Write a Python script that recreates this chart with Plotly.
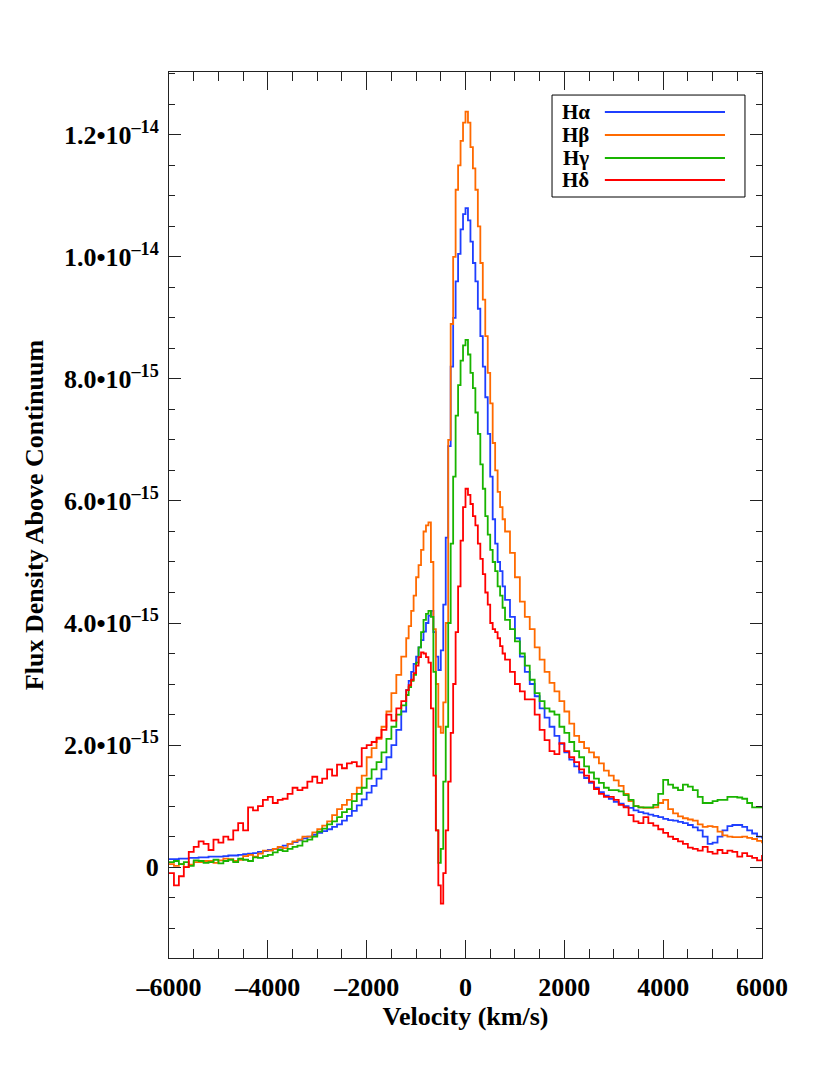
import plotly.graph_objects as go

# velocity bins in km/s (shared by all four lines)
velocity = [
    -6000, -5900, -5800, -5700, -5600, -5500, -5400, -5300, -5200, -5100,
    -5000, -4900, -4800, -4700, -4600, -4500, -4400, -4300, -4200, -4100,
    -4000, -3900, -3800, -3700, -3600, -3500, -3400, -3300, -3200, -3100,
    -3000, -2900, -2800, -2700, -2600, -2500, -2400, -2300, -2200, -2100,
    -2000, -1900, -1800, -1700, -1600, -1500, -1400, -1300,
    -1200, -1150, -1100, -1050, -1000, -950, -900, -850, -800, -750,
    -700, -650, -600, -550, -500, -450, -400, -350, -300, -250,
    -200, -150, -100, -50, 0, 50, 100, 150, 200, 250,
    300, 350, 400, 450, 500, 550, 600, 650, 700, 750, 800,
    900, 1000, 1100, 1200, 1300, 1400, 1500, 1600, 1700, 1800,
    1900, 2000, 2100, 2200, 2300, 2400, 2500, 2600, 2700, 2800,
    2900, 3000, 3100, 3200, 3300, 3400, 3500, 3600, 3700, 3800,
    3900, 4000, 4100, 4200, 4300, 4400, 4500, 4600, 4700, 4800,
    4900, 5000, 5100, 5200, 5300, 5400, 5500, 5600, 5700, 5800,
    5900, 6000,
]

# flux density above continuum, in units of 1e-15
h_alpha = [
    0.13, 0.13, 0.14, 0.14, 0.15, 0.15, 0.16, 0.16, 0.17, 0.17,
    0.17, 0.18, 0.19, 0.19, 0.2, 0.21, 0.22, 0.23, 0.25, 0.26,
    0.28, 0.3, 0.32, 0.35, 0.38, 0.41, 0.44, 0.47, 0.5, 0.53,
    0.56, 0.59, 0.62, 0.66, 0.7, 0.76, 0.84, 0.92, 1.01, 1.11,
    1.22, 1.33, 1.45, 1.6, 1.8, 2.0, 2.25, 2.55,
    2.9, 3.05, 3.2, 3.33, 3.45, 3.6, 3.72, 3.86, 4.0, 4.12,
    4.2, 3.85, 3.45, 3.23, 3.55, 4.3, 5.4, 6.9, 8.2, 9.0,
    9.6, 10.05, 10.45, 10.7, 10.8, 10.6, 10.25, 9.9, 9.6, 9.15,
    8.7, 8.2, 7.7, 7.1, 6.4, 5.7, 5.3, 5.0, 4.85, 4.6, 4.38,
    4.1, 3.75, 3.45, 3.2, 3.0, 2.8, 2.6, 2.45, 2.3, 2.15,
    2.02, 1.88, 1.76, 1.65, 1.55, 1.46, 1.38, 1.3, 1.23, 1.17,
    1.12, 1.07, 1.04, 1.0, 0.97, 0.93, 0.9, 0.88, 0.86, 0.84,
    0.82, 0.79, 0.77, 0.76, 0.74, 0.72, 0.69, 0.65, 0.6, 0.5,
    0.38, 0.4, 0.5, 0.6, 0.67, 0.69, 0.69, 0.66, 0.6, 0.55,
    0.5, 0.47,
]

h_beta = [
    0.05, 0.02, 0.05, 0.0, 0.04, 0.08, 0.08, 0.1, 0.1, 0.07,
    0.11, 0.14, 0.13, 0.1, 0.12, 0.18, 0.2, 0.17, 0.22, 0.27,
    0.27, 0.3, 0.33, 0.31, 0.38, 0.42, 0.45, 0.5, 0.5, 0.57,
    0.62, 0.68, 0.75, 0.85, 0.95, 1.02, 1.1, 1.2, 1.3, 1.5,
    1.8, 1.95, 2.1, 2.3, 2.55, 2.85, 3.15, 3.45,
    3.75, 3.95, 4.2, 4.45, 4.75, 4.95, 5.2, 5.5, 5.6, 5.65,
    5.0, 3.9, 3.0, 2.3, 2.2, 2.7, 4.0, 7.0, 8.9, 10.0,
    11.1, 11.5, 11.9, 12.2, 12.38, 12.2, 11.8, 11.45, 11.1, 10.5,
    9.9, 9.3, 8.7, 8.1, 7.6, 6.95, 6.5, 6.15, 5.9, 5.7, 5.5,
    5.15, 4.75, 4.35, 4.1, 3.9, 3.6, 3.4, 3.2, 3.02, 2.88,
    2.72, 2.55, 2.35, 2.15, 2.05, 1.95, 1.88, 1.8, 1.7, 1.58,
    1.5, 1.42, 1.33, 1.2, 1.08, 1.0, 0.98, 0.97, 0.97, 0.98,
    1.05, 1.1, 0.95, 0.88, 0.83, 0.8, 0.78, 0.76, 0.7, 0.66,
    0.67, 0.66, 0.58, 0.52, 0.5, 0.49, 0.49, 0.5, 0.48, 0.46,
    0.43, 0.39,
]

h_gamma = [
    0.08, 0.1, 0.05, 0.08, 0.02, 0.11, 0.1, 0.07, 0.08, 0.12,
    0.06, 0.1, 0.12, 0.08, 0.14, 0.12, 0.1, 0.16, 0.15, 0.18,
    0.2, 0.24, 0.28, 0.26, 0.3, 0.33, 0.35, 0.42, 0.45, 0.5,
    0.58, 0.63, 0.7, 0.75, 0.82, 0.9, 0.95, 1.08, 1.2, 1.3,
    1.45, 1.6, 1.72, 1.88, 2.1, 2.3, 2.5, 2.65,
    2.82, 2.95, 3.05, 3.15, 3.35, 3.6, 3.85, 4.05, 4.15, 4.2,
    4.1, 3.2, 0.6, 0.07, 0.3, 1.4, 2.3, 4.0, 5.3, 6.4,
    7.4, 7.9, 8.3, 8.55, 8.64, 8.4, 8.1, 7.85, 7.45, 7.1,
    6.6, 6.2, 5.75, 5.45, 5.2, 5.0, 4.85, 4.6, 4.45, 4.25, 4.05,
    3.9, 3.7, 3.5, 3.3, 3.07, 2.85, 2.72, 2.6, 2.55, 2.5,
    2.3, 2.2, 2.05, 1.9, 1.8, 1.65, 1.55, 1.45, 1.38, 1.3,
    1.26, 1.26, 1.24, 1.18, 1.1, 1.0, 0.98, 0.98, 0.98, 1.02,
    1.2, 1.43, 1.35, 1.3, 1.26, 1.35, 1.32, 1.26, 1.15, 1.05,
    1.05, 1.08, 1.1, 1.1, 1.15, 1.15, 1.14, 1.12, 1.05, 0.98,
    0.98, 0.97,
]

h_delta = [
    -0.1, -0.3, -0.15, 0.0, 0.25, 0.33, 0.42, 0.38, 0.28, 0.45,
    0.4, 0.5, 0.45, 0.6, 0.72, 0.6, 0.98, 0.93, 1.0, 1.1,
    1.15, 1.05, 1.1, 1.12, 1.2, 1.3, 1.26, 1.3, 1.4, 1.48,
    1.38, 1.45, 1.6, 1.5, 1.68, 1.62, 1.7, 1.72, 1.65, 1.95,
    2.0, 2.05, 2.12, 2.25, 2.5, 2.4, 2.6, 2.72,
    2.9, 2.98, 3.07, 3.18, 3.3, 3.44, 3.52, 3.5, 3.44, 3.35,
    2.6, 1.5, 0.6, -0.3, -0.6, -0.1, 0.6, 1.4, 2.2, 3.0,
    3.85, 4.6, 5.35, 5.9, 6.2, 6.1, 5.95, 5.75, 5.6, 5.3,
    5.05, 4.8, 4.5, 4.3, 4.0, 3.9, 3.85, 3.75, 3.62, 3.5, 3.4,
    3.2, 3.0, 2.88, 2.75, 2.75, 2.5, 2.25, 2.08, 1.9, 1.85,
    2.03, 1.9, 1.8, 1.72, 1.6, 1.5, 1.4, 1.28, 1.2, 1.15,
    1.15, 1.1, 1.02, 0.98, 0.85, 0.75, 0.72, 0.82, 0.72, 0.68,
    0.62, 0.56, 0.5, 0.46, 0.42, 0.38, 0.32, 0.3, 0.27, 0.33,
    0.25, 0.22, 0.28, 0.23, 0.27, 0.25, 0.17, 0.23, 0.18, 0.15,
    0.11, 0.2,
]

line_names = ['H\u03b1', 'H\u03b2', 'H\u03b3', 'H\u03b4']
line_colors = ['#1f3fff', '#ff6a00', '#19b400', '#ff0000']

x_ticks = [-6000, -4000, -2000, 0, 2000, 4000, 6000]
x_labels = ['\u20136000', '\u20134000', '\u20132000', '0', '2000', '4000', '6000']
y_ticks = [0, 2e-15, 4e-15, 6e-15, 8e-15, 1e-14, 1.2e-14]
y_labels = ['0', '2.0\u202210<sup>\u201315</sup>', '4.0\u202210<sup>\u201315</sup>',
            '6.0\u202210<sup>\u201315</sup>', '8.0\u202210<sup>\u201315</sup>',
            '1.0\u202210<sup>\u201314</sup>', '1.2\u202210<sup>\u201314</sup>']

unit = 1e-15
font = dict(family='Liberation Serif', size=26, color='black', weight='bold')

fig = go.Figure()
for name, flux, color in zip(line_names, [h_alpha, h_beta, h_gamma, h_delta], line_colors):
    fig.add_trace(go.Scatter(x=velocity, y=[f * unit for f in flux], mode='lines', name=name,
                             line=dict(color=color, width=1.8, shape='hv'), showlegend=False))

# legend drawn by hand: label first, then the line sample
legend_rows = [0.9549, 0.9289, 0.9029, 0.8781]
fig.add_shape(type='rect', xref='paper', yref='paper', x0=0.6459, x1=0.9713, y0=0.8589, y1=0.9740,
              line=dict(color='black', width=1), fillcolor='white', layer='above')
for name, color, ry in zip(line_names, line_colors, legend_rows):
    fig.add_annotation(x=0.6863, y=ry, xref='paper', yref='paper', text=name, showarrow=False,
                       xanchor='center', yanchor='middle',
                       font=dict(family='Liberation Serif', size=21, color='black', weight='bold'))
    fig.add_shape(type='line', xref='paper', yref='paper', x0=0.735, x1=0.9376, y0=ry, y1=ry,
                  line=dict(color=color, width=2), layer='above')

axis_style = dict(showline=True, linecolor='#222', linewidth=1, mirror='ticks', ticks='inside',
                  tickcolor='#222', showgrid=False, zeroline=False, tickfont=font)

fig.update_xaxes(range=[-6000, 6000], tickmode='array', tickvals=x_ticks, ticktext=x_labels,
                 ticklen=18, ticklabelstandoff=6,
                 minor=dict(ticks='inside', ticklen=9, tickmode='linear', tick0=0, dtick=500, tickcolor='#222'),
                 title=dict(text='Velocity (km/s)', font=font, standoff=2), **axis_style)
fig.update_yaxes(range=[-1.49e-15, 13.03e-15], tickmode='array', tickvals=y_ticks, ticktext=y_labels,
                 ticklen=12, ticklabelstandoff=4,
                 minor=dict(ticks='inside', ticklen=6, tickmode='linear', tick0=0, dtick=5e-16, tickcolor='#222'),
                 title=dict(text='Flux Density Above Continuum', font=font, standoff=12), **axis_style)

# the page adds an 8 px body margin, so the figure is a little smaller than the window
fig.update_layout(width=822, height=1066, margin=dict(l=161, r=68, t=64, b=116),
                  plot_bgcolor='white', paper_bgcolor='white', showlegend=False)

fig.write_html("out.html")
